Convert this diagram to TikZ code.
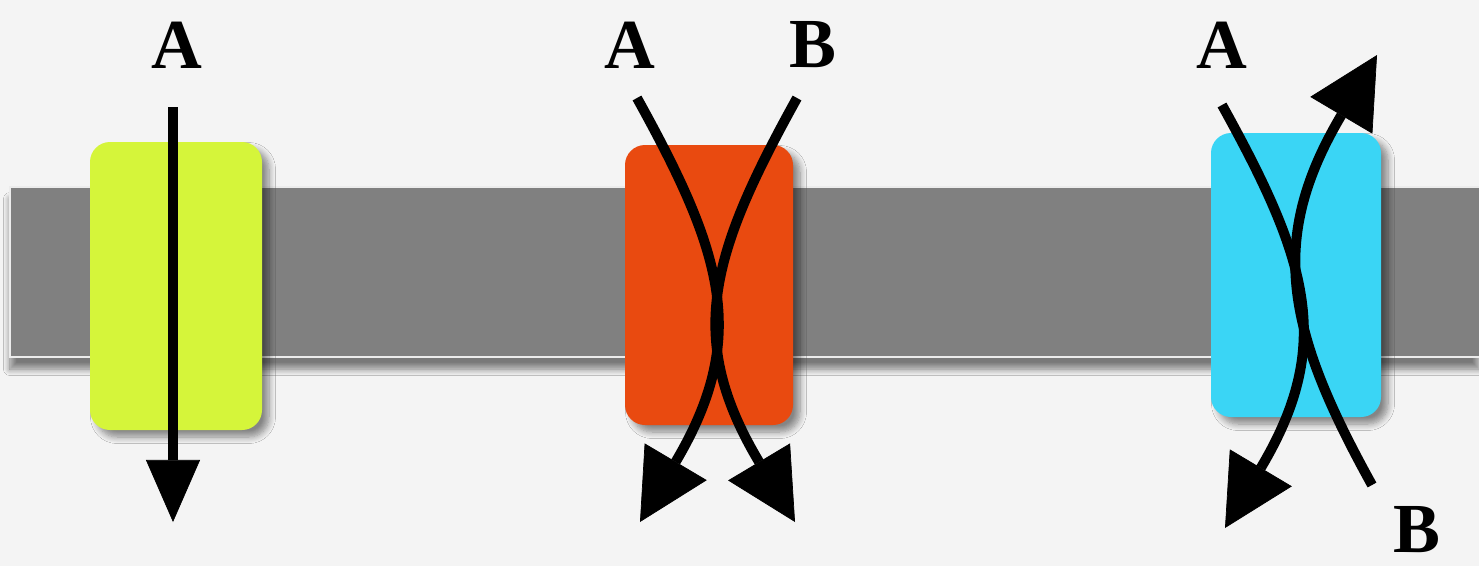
\documentclass[tikz,border=0pt]{standalone}
\usepackage{fontspec}
\setmainfont{Liberation Serif}
\usetikzlibrary{arrows.meta,shadows.blur}
\definecolor{bgcol}{RGB}{244,244,244}
\definecolor{bandcol}{RGB}{128,128,128}
\definecolor{uniport}{RGB}{213,245,58}
\definecolor{symport}{RGB}{233,74,16}
\definecolor{antiport}{RGB}{58,213,245}
\tikzset{
  chan/.style={rounded corners=0.2cm, blur shadow={shadow xshift=0.07cm, shadow yshift=-0.07cm, shadow blur steps=8, shadow opacity=45}},
  flow/.style={line width=1mm, black, -{Triangle[length=0.7cm,width=0.72cm,fill=black,line width=0.2pt]}},
  lab/.style={font=\fontsize{20}{22}\selectfont\bfseries, inner sep=0pt}
}
\begin{document}
\begin{tikzpicture}[x=0.01cm, y=-0.01cm]
\useasboundingbox (0,0) rectangle (1479,566);
\fill[bgcol] (0,0) rectangle (1479,566);
% membrane
\fill[bandcol, blur shadow={shadow xshift=0cm, shadow yshift=-0.12cm, shadow blur steps=10, shadow opacity=50}] (10,187) rectangle (1479,357);
\draw[white!85!bandcol, line width=0.6pt] (1479,187) -- (10,187) -- (10,357) -- (1479,357);
% carriers
\fill[chan, uniport] (90,142) rectangle (262,430);
\fill[chan, symport] (625,145) rectangle (793,425);
\fill[chan, antiport] (1211,133) rectangle (1381,417);
% labels
\node[lab] (ua) at (177,45) {A};
\node[lab] (sa) at (630,45) {A};
\node[lab] (sb) at (813,45) {B};
\node[lab] (aa) at (1222,45) {A};
\node[lab] (ab) at (1417,530) {B};
% arrow ends
\coordinate (ua0) at (173,107);
\coordinate (ua1) at (173,522);
\coordinate (sa0) at (637,98);
\coordinate (sa1) at (640,522);
\coordinate (sb0) at (797,98);
\coordinate (sb1) at (795,522);
\coordinate (aa0) at (1222,105);
\coordinate (aa1) at (1225,528);
\coordinate (ab0) at (1372,485);
\coordinate (ab1) at (1377,55);
\draw[flow, -{Triangle[length=0.62cm,width=0.54cm,fill=black,line width=0.2pt]}] (ua0) -- (ua1);
\draw[flow] (sa0) .. controls (724,255) and (749,338) .. (sa1);
\draw[flow] (sb0) .. controls (710,255) and (685,338) .. (sb1);
\draw[flow] (aa0) .. controls (1309,262) and (1334,345) .. (aa1);
\draw[flow] (ab0) .. controls (1285,328) and (1268,239) .. (ab1);
\end{tikzpicture}
\end{document}
